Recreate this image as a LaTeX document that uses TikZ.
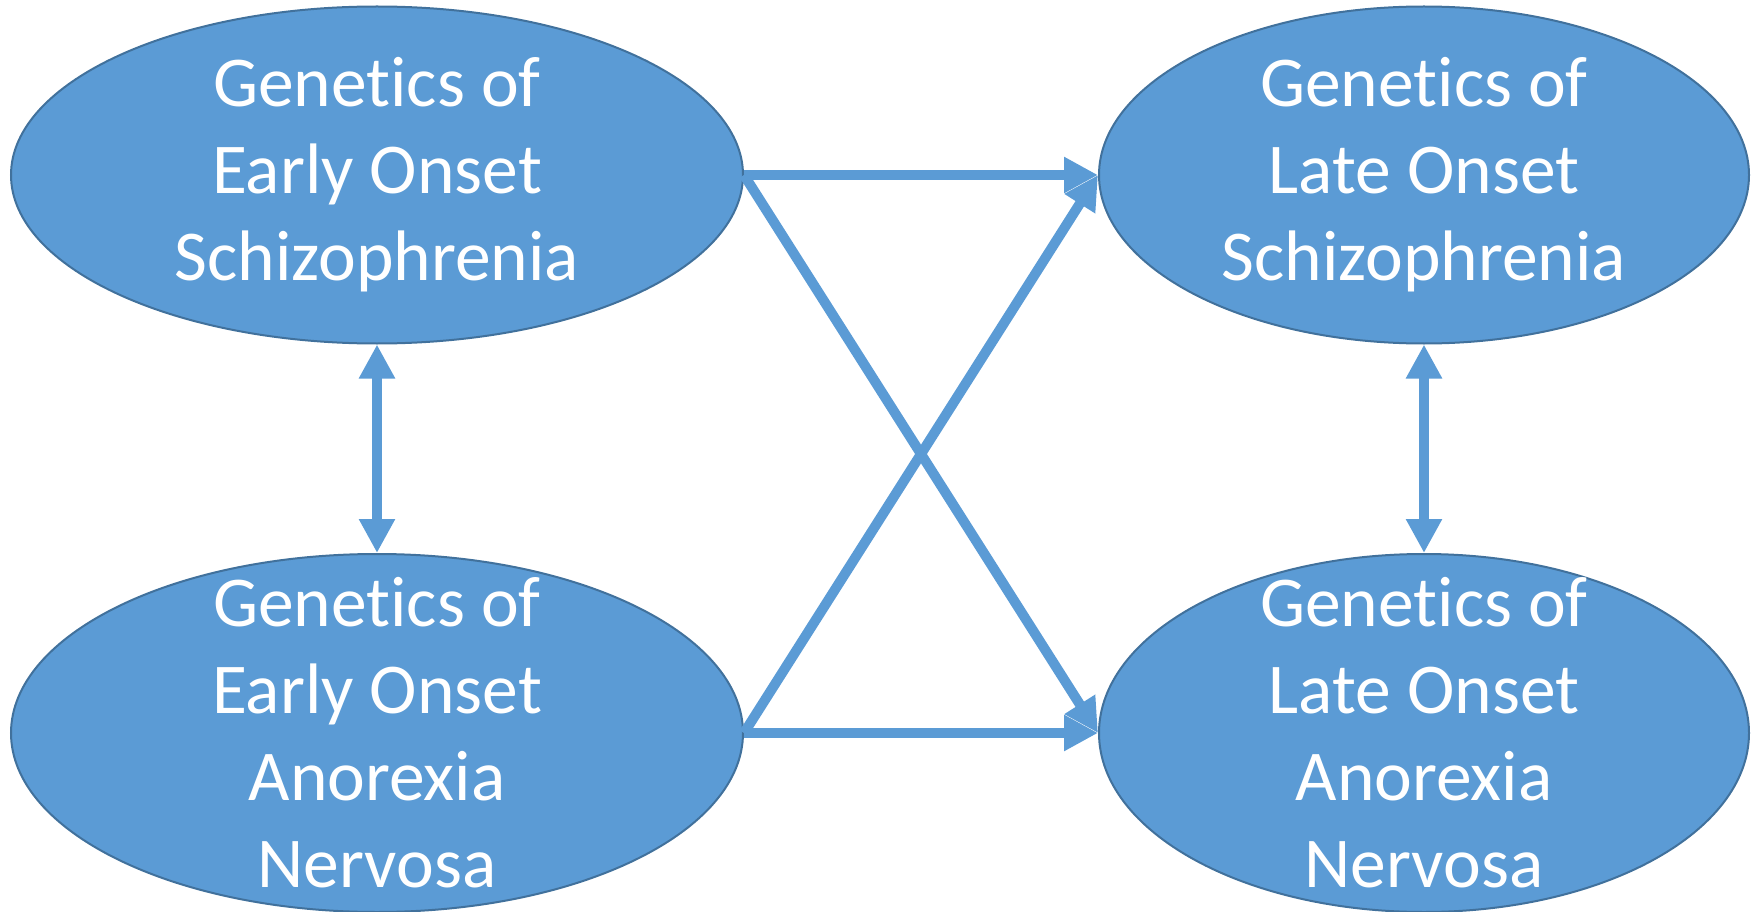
\documentclass[tikz,border=0pt]{standalone}
\usepackage{fontspec}
\setmainfont{Carlito}[Ligatures={NoCommon,NoDiscretionary,NoContextual}]
\usetikzlibrary{shapes.geometric,arrows.meta}
\definecolor{fillblue}{HTML}{5B9BD5}
\definecolor{edgeblue}{HTML}{41719C}
\begin{document}
\begin{tikzpicture}[x=1pt,y=-1pt,
  blob/.style={ellipse, draw=edgeblue, line width=2pt, fill=fillblue, inner sep=0pt},
  leftcol/.style={minimum width=732pt},
  rightcol/.style={minimum width=650pt},
  toprow/.style={minimum height=337pt},
  botrow/.style={minimum height=358pt},
  lbl/.style={text=white, align=center, font=\fontsize{71.5}{87}\selectfont, inner sep=0pt},
  conn/.style={draw=fillblue, line width=10pt, -{Triangle[length=34pt,width=34pt]}},
  twoway/.style={draw=fillblue, line width=10pt, {Triangle[length=34pt,width=34pt]}-{Triangle[length=34pt,width=34pt]}}]
\useasboundingbox (0,0) rectangle (1762,912);
\node[blob,leftcol,toprow] (TL) at (377,175) {};
\node[blob,rightcol,toprow] (TR) at (1424,175) {};
\node[blob,leftcol,botrow] (BL) at (377,733) {};
\node[blob,rightcol,botrow] (BR) at (1424,733) {};
\node[lbl] (tTL) at (TL) {Genetics of\\Early Onset\\Schizophrenia};
\node[lbl] (tTR) at (TR) {Genetics of\\Late Onset\\Schizophrenia};
\node[lbl] (tBL) at (BL) {Genetics of\\Early Onset\\Anorexia\\Nervosa};
\node[lbl] (tBR) at (BR) {Genetics of\\Late Onset\\Anorexia\\Nervosa};
\draw[conn] (TL.east) -- (TR.west);
\draw[conn] (BL.east) -- (BR.west);
\draw[conn] (TL.east) -- (BR.west);
\draw[conn] (BL.east) -- (TR.west);
\draw[twoway] (TL.south) -- (BL.north);
\draw[twoway] (TR.south) -- (BR.north);
\end{tikzpicture}
\end{document}
